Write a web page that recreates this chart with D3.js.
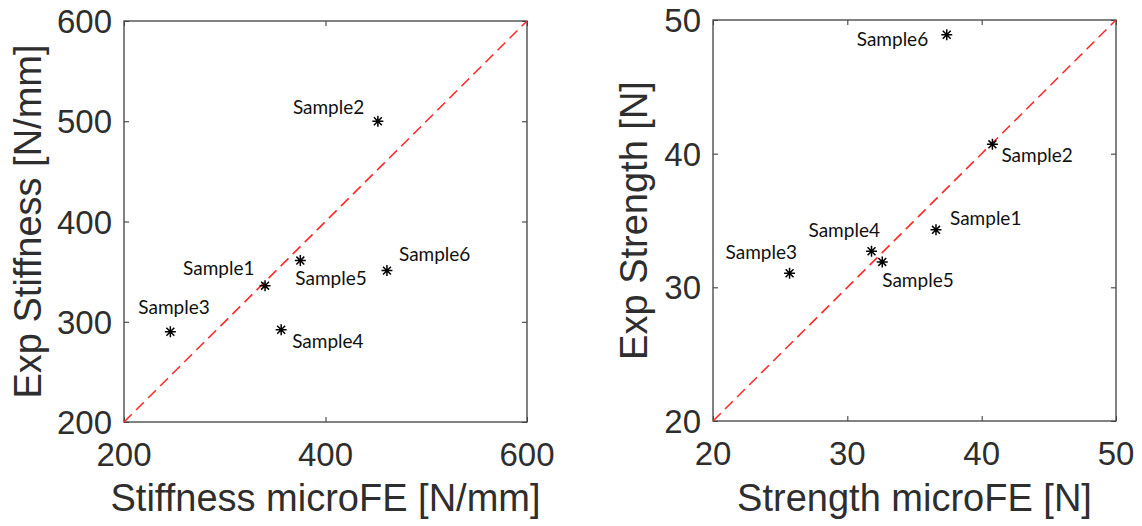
<!DOCTYPE html>
<html>
<head>
<meta charset="utf-8">
<script src="https://cdn.jsdelivr.net/npm/d3@7"></script>
<style>
  html, body { margin: 0; padding: 0; background: #fff; }
  svg { display: block; }
</style>
</head>
<body>
<svg id="chart" width="1142" height="526"></svg>
<script>
// values
var samples = ['Sample1', 'Sample2', 'Sample3', 'Sample4', 'Sample5', 'Sample6']

var stiffnessFE = [340, 452, 246, 356, 375, 461]
var stiffnessExp = [336, 500, 290, 292, 361, 351]
var stiffnessTicksX = [200, 400, 600]
var stiffnessTicksY = [200, 300, 400, 500, 600]

var strengthFE = [36.6, 40.8, 25.7, 31.8, 32.6, 37.4]
var strengthExp = [34.3, 40.7, 31.05, 32.7, 31.9, 48.9]
var strengthTicksX = [20, 30, 40, 50]
var strengthTicksY = [20, 30, 40, 50]

// label placement (px from the marker: text start, baseline)
var stiffnessLabelOffsets = [[-82, -11], [-85, -7], [-32, -18], [11, 18], [-5, 24], [12, -10]]
var strengthLabelOffsets = [[14, -5], [9, 18], [-64, -14], [-63, -14], [0, 25], [-90, 11]]

var svg = d3.select('#chart')
var axisColor = '#2e2e2e'
var tickFont = '"Liberation Sans", Arial, Helvetica, sans-serif'

function drawPanel (cfg) {
  var x = d3.scaleLinear().domain(cfg.domain).range([cfg.left, cfg.right])
  var y = d3.scaleLinear().domain(cfg.domain).range([cfg.bottom, cfg.top])
  var g = svg.append('g')

  // ticks on all four sides, pointing inward (box on)
  var tickLen = 5
  g.append('g')
    .attr('transform', 'translate(0,' + cfg.bottom + ')')
    .call(d3.axisBottom(x).tickValues(cfg.ticksX).tickSize(-tickLen).tickFormat(''))
  g.append('g')
    .attr('transform', 'translate(0,' + cfg.top + ')')
    .call(d3.axisTop(x).tickValues(cfg.ticksX).tickSize(-tickLen).tickFormat(''))
  g.append('g')
    .attr('transform', 'translate(' + cfg.left + ',0)')
    .call(d3.axisLeft(y).tickValues(cfg.ticksY).tickSize(-tickLen).tickFormat(''))
  g.append('g')
    .attr('transform', 'translate(' + cfg.right + ',0)')
    .call(d3.axisRight(y).tickValues(cfg.ticksY).tickSize(-tickLen).tickFormat(''))

  g.selectAll('.domain').remove()
  g.selectAll('.tick line').attr('stroke', axisColor).attr('stroke-width', 1)

  g.append('rect')
    .attr('x', cfg.left)
    .attr('y', cfg.top)
    .attr('width', cfg.right - cfg.left)
    .attr('height', cfg.bottom - cfg.top)
    .attr('fill', 'none')
    .attr('stroke', '#4d4d4d')
    .attr('stroke-width', 1.4)

  // tick labels
  g.selectAll('.xlab')
    .data(cfg.ticksX)
    .enter().append('text')
    .attr('x', function (d) { return x(d) })
    .attr('y', cfg.bottom + 44)
    .attr('text-anchor', 'middle')
    .style('font-family', tickFont)
    .style('font-size', '33px')
    .style('fill', axisColor)
    .text(function (d) { return d })

  g.selectAll('.ylab')
    .data(cfg.ticksY)
    .enter().append('text')
    .attr('x', cfg.left - 12)
    .attr('y', function (d) { return y(d) + 12 })
    .attr('text-anchor', 'end')
    .style('font-family', tickFont)
    .style('font-size', '33px')
    .style('fill', axisColor)
    .text(function (d) { return d })

  // axis titles
  g.append('text')
    .attr('x', (cfg.left + cfg.right) / 2)
    .attr('y', 511)
    .attr('text-anchor', 'middle')
    .style('font-family', tickFont)
    .style('font-size', '38px')
    .style('fill', axisColor)
    .text(cfg.xTitle)

  g.append('text')
    .attr('transform', 'translate(' + cfg.yTitleX + ',' + ((cfg.top + cfg.bottom) / 2) + ')rotate(-90)')
    .attr('text-anchor', 'middle')
    .style('font-family', tickFont)
    .style('font-size', '38px')
    .style('fill', axisColor)
    .text(cfg.yTitle)

  // identity line
  g.append('line')
    .attr('x1', x(cfg.domain[0]))
    .attr('y1', y(cfg.domain[0]))
    .attr('x2', x(cfg.domain[1]))
    .attr('y2', y(cfg.domain[1]))
    .attr('stroke', '#ff2b2b')
    .attr('stroke-width', 1.6)
    .attr('stroke-dasharray', '11,6')

  // asterisk markers
  var r = 5.5
  var k = r * 0.72
  var star = 'M0,' + (-r) + 'V' + r + 'M' + (-r) + ',0H' + r +
    'M' + (-k) + ',' + (-k) + 'L' + k + ',' + k +
    'M' + (-k) + ',' + k + 'L' + k + ',' + (-k)

  var pts = samples.map(function (s, i) {
    return { name: s, px: x(cfg.xs[i]), py: y(cfg.ys[i]), off: cfg.offsets[i] }
  })

  g.selectAll('.marker')
    .data(pts)
    .enter().append('path')
    .attr('d', star)
    .attr('transform', function (d) { return 'translate(' + d.px + ',' + d.py + ')' })
    .attr('stroke', '#000')
    .attr('stroke-width', 1.5)
    .attr('fill', 'none')

  g.selectAll('.sample')
    .data(pts)
    .enter().append('text')
    .attr('x', function (d) { return d.px + d.off[0] })
    .attr('y', function (d) { return d.py + d.off[1] })
    .style('font-family', 'Lato, "Open Sans", sans-serif')
    .style('font-size', '19px')
    .style('fill', '#111')
    .text(function (d) { return d.name })
}

drawPanel({
  left: 124, right: 527, top: 21, bottom: 422,
  domain: [200, 600],
  ticksX: stiffnessTicksX, ticksY: stiffnessTicksY,
  xs: stiffnessFE, ys: stiffnessExp,
  offsets: stiffnessLabelOffsets,
  xTitle: 'Stiffness microFE [N/mm]',
  yTitle: 'Exp Stiffness [N/mm]',
  yTitleX: 41
})

drawPanel({
  left: 713, right: 1116, top: 20, bottom: 421,
  domain: [20, 50],
  ticksX: strengthTicksX, ticksY: strengthTicksY,
  xs: strengthFE, ys: strengthExp,
  offsets: strengthLabelOffsets,
  xTitle: 'Strength microFE [N]',
  yTitle: 'Exp Strength [N]',
  yTitleX: 647
})
</script>
</body>
</html>
